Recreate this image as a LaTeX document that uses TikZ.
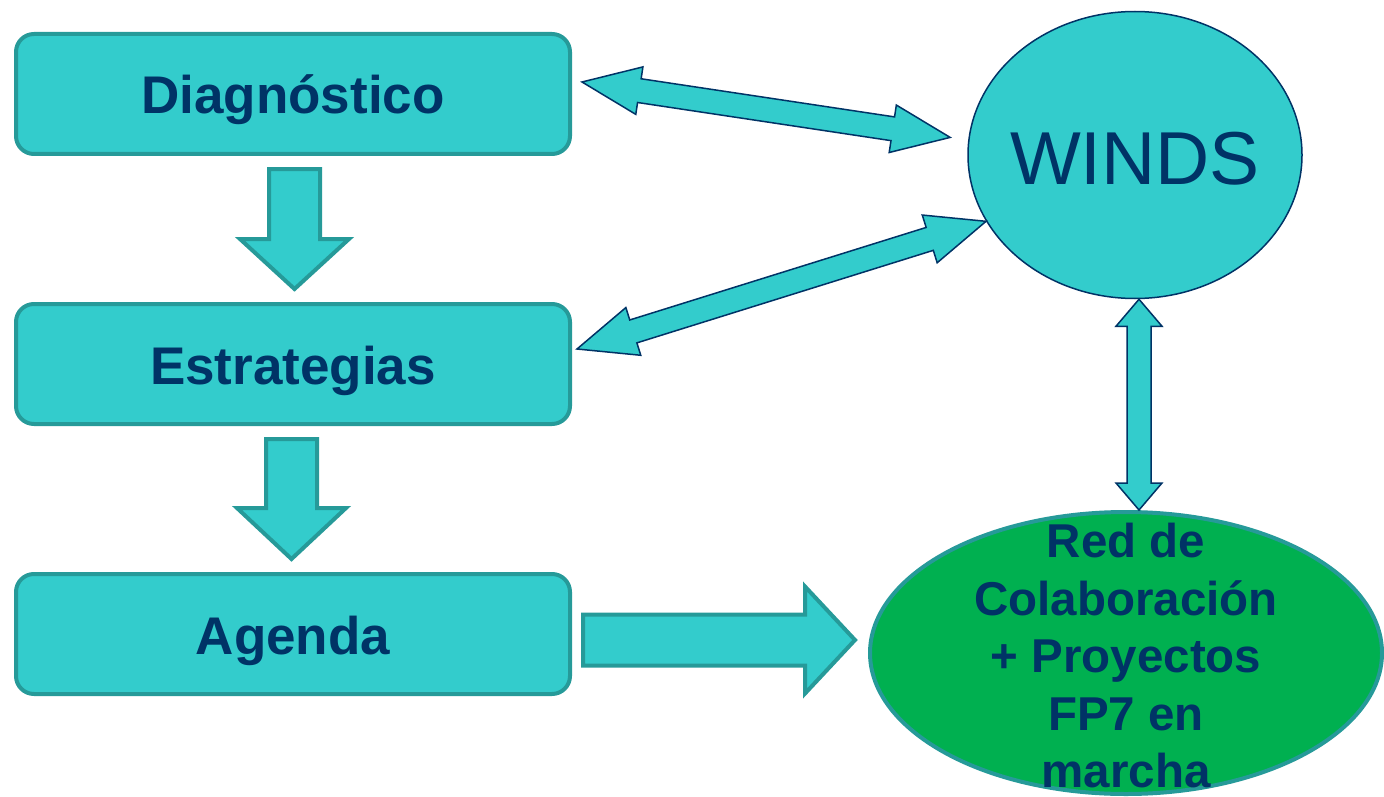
\documentclass[tikz,border=0pt]{standalone}
\usepackage{fontspec}
\setmainfont{Liberation Sans}
\usetikzlibrary{calc,shapes.geometric}
\definecolor{boxfill}{RGB}{51,204,204}
\definecolor{boxline}{RGB}{38,154,153}
\definecolor{inknavy}{RGB}{0,51,102}
\definecolor{netgreen}{RGB}{0,176,80}
\tikzset{
    stagebox/.style={draw=boxline, line width=4pt, fill=boxfill, rounded corners=18pt,
        minimum width=554pt, minimum height=120pt, text=inknavy,
        font=\fontsize{53}{63}\selectfont\bfseries, text height=40pt, text depth=0pt},
    blockarrow/.style={draw=boxline, line width=4pt, fill=boxfill},
    linkarrow/.style={draw=inknavy, line width=1.5pt, fill=boxfill},
    windstext/.style={text=inknavy, font=\fontsize{75}{90}\selectfont, text height=58pt, text depth=0pt},
    redtext/.style={text=inknavy, align=center, font=\fontsize{47.5}{57.5}\selectfont\bfseries, yshift=-3pt}
}
\begin{document}
\begin{tikzpicture}[x=1pt,y=-1pt]
        \useasboundingbox (0,0) rectangle (1384,797);
        \clip (0,0) rectangle (1384,797);
        % Left column
        \node[stagebox] (diag) at (293,94) {Diagnóstico};
        \node[stagebox] (strat) at (293,364) {Estrategias};
        \node[stagebox] (agenda) at (293,634) {Agenda};
        % Right side
        \node[ellipse, draw=inknavy, line width=1.5pt, fill=boxfill, minimum width=334pt, minimum height=287pt,
            label={[windstext]center:WINDS}] (winds) at (1135,155) {};
        \node[ellipse, draw=boxline, line width=4pt, fill=netgreen, minimum width=512pt, minimum height=282pt,
            label={[redtext]center:{Red de\\Colaboración\\+ Proyectos\\FP7 en\\marcha}}] (red) at (1126,653) {};
        % Block arrows
        \coordinate (s1) at ([shift={(1.5,13)}]diag.south);
        \coordinate (e1) at ([shift={(1.5,-13)}]strat.north);
        \coordinate (s2) at ([shift={(-1.5,13)}]strat.south);
        \coordinate (e2) at ([shift={(-1.5,-13)}]agenda.north);
        \coordinate (s3) at ([shift={(11,6)}]agenda.east);
        \coordinate (e3) at ([shift={(-13,-13)}]red.west);
        \foreach \a/\b/\h/\w in {s1/e1/50pt/54.5pt, s2/e2/51pt/54.5pt, s3/e3/50pt/53.5pt} {
            \filldraw[blockarrow] ($(\a)!25.5pt!90:(\b)$) -- ($(\b)!\h!(\a)!25.5pt!270:(\a)$)
                -- ($(\b)!\h!(\a)!\w!270:(\a)$) -- (\b) -- ($(\b)!\h!(\a)!\w!90:(\a)$)
                -- ($(\b)!\h!(\a)!25.5pt!90:(\a)$) -- ($(\a)!25.5pt!270:(\b)$) -- cycle;
        }
        % Links to WINDS
        \coordinate (d1) at ([shift={(10,-12)}]diag.east);
        \coordinate (w1) at ([shift={(-18,-3)}]winds.175);
        \coordinate (d2) at ([shift={(5,-15)}]strat.east);
        \coordinate (w2) at (winds.204);
        \coordinate (w3) at ([xshift=4pt]winds.south);
        \coordinate (r3) at ([xshift=13pt]red.north);
        \foreach \a/\b/\h/\w in {d1/w1/58pt/24pt, d2/w2/59pt/25pt, w3/r3/27pt/23pt} {
            \filldraw[linkarrow] (\a) -- ($(\a)!\h!(\b)!\w!90:(\b)$) -- ($(\a)!\h!(\b)!12pt!90:(\b)$)
                -- ($(\b)!\h!(\a)!12pt!270:(\a)$) -- ($(\b)!\h!(\a)!\w!270:(\a)$) -- (\b)
                -- ($(\b)!\h!(\a)!\w!90:(\a)$) -- ($(\b)!\h!(\a)!12pt!90:(\a)$)
                -- ($(\a)!\h!(\b)!12pt!270:(\b)$) -- ($(\a)!\h!(\b)!\w!270:(\b)$) -- cycle;
        }
\end{tikzpicture}
\end{document}
